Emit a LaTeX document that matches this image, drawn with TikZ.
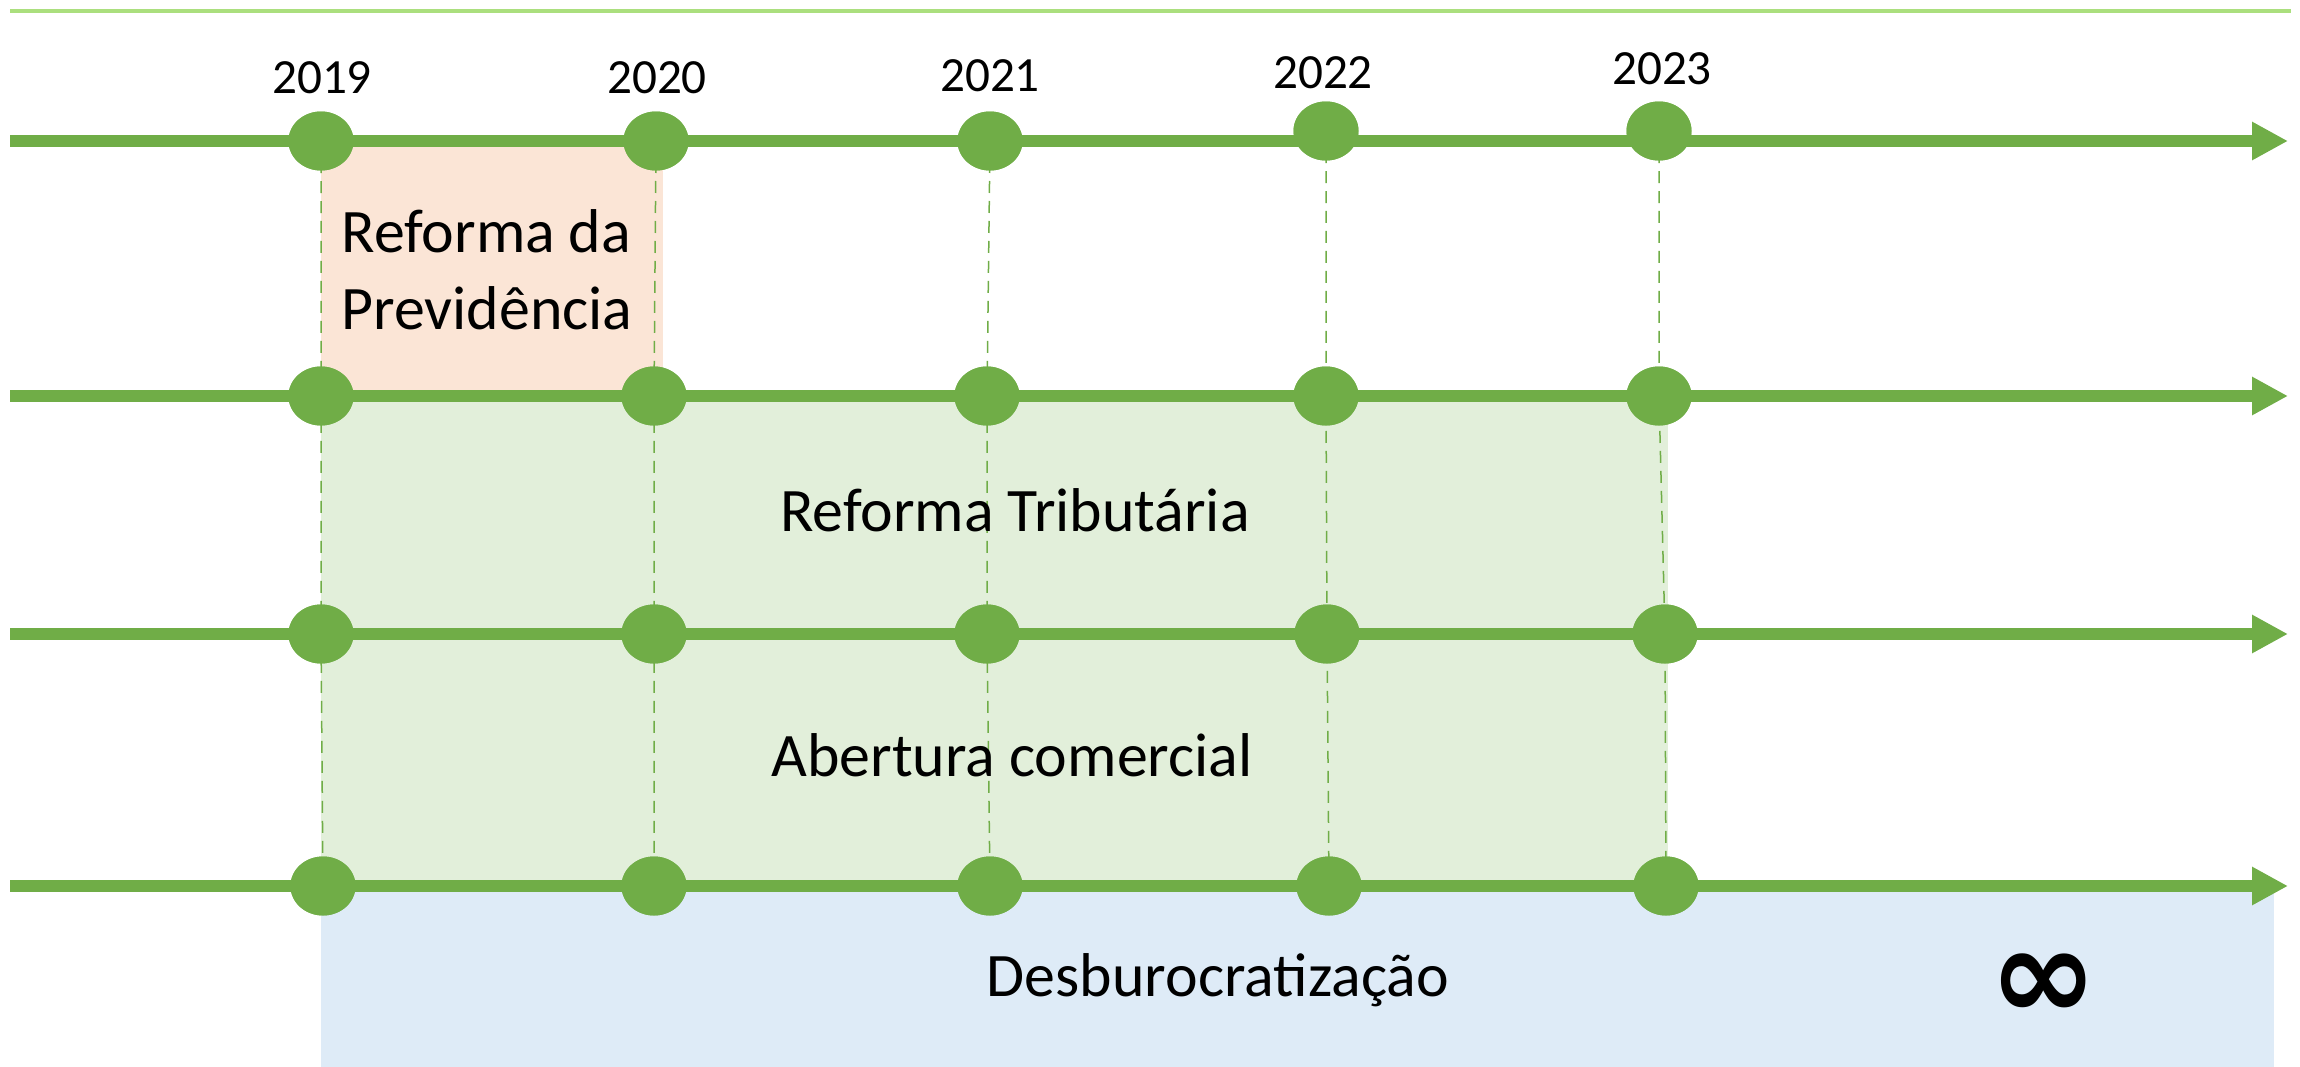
\documentclass[tikz,border=0pt]{standalone}
\usepackage{fontspec}
\setmainfont{Carlito}
\newfontfamily\symfont{DejaVu Sans}
\usetikzlibrary{arrows.meta,shapes.geometric}
\definecolor{tlgreen}{HTML}{70AD47}
\definecolor{toplinegreen}{HTML}{ABDF7E}
\definecolor{peachfill}{HTML}{FBE5D6}
\definecolor{greenfill}{HTML}{E2EFDA}
\definecolor{bluefill}{HTML}{DEEBF7}
\tikzset{
  dot/.style={ellipse, fill=tlgreen, draw=none, minimum width=6.5mm, minimum height=5.9mm, inner sep=0pt},
  axisline/.style={tlgreen, line width=1.2mm, -{Triangle[length=3.6mm,width=3.6mm]}},
  guide/.style={tlgreen, line width=0.15mm, dash pattern=on 1.2mm off 0.8mm},
  yearlabel/.style={font=\fontsize{14}{16}\selectfont, inner sep=0pt},
  bandlabel/.style={font=\fontsize{17.6}{21.8}\selectfont, inner sep=0pt, align=center}
}
\begin{document}
\begin{tikzpicture}[x=0.1mm,y=-0.1mm]
\useasboundingbox (0,0) rectangle (2300,1067);
% top rule
\coordinate (ts) at (10,11);
\coordinate (te) at (2291,11);
\draw[toplinegreen, line width=0.45mm] (ts) -- (te);
% bands
\fill[peachfill] (321,141) rectangle (663,396);
\fill[greenfill] (321,396) rectangle (1668,886);
\fill[bluefill] (321,886) rectangle (2274,1067);
% dots (positions)
\path
  (321,141) node[dot] (a1) {} (656,141) node[dot] (a2) {} (990,141) node[dot] (a3) {} (1326,131) node[dot] (a4) {} (1659,131) node[dot] (a5) {}
  (321,396) node[dot] (b1) {} (654,396) node[dot] (b2) {} (987,396) node[dot] (b3) {} (1326,396) node[dot] (b4) {} (1659,396) node[dot] (b5) {}
  (321,634) node[dot] (c1) {} (654,634) node[dot] (c2) {} (987,634) node[dot] (c3) {} (1327,634) node[dot] (c4) {} (1665,634) node[dot] (c5) {}
  (323,886) node[dot] (d1) {} (654,886) node[dot] (d2) {} (990,886) node[dot] (d3) {} (1329,886) node[dot] (d4) {} (1666,886) node[dot] (d5) {};
% dashed guides
\foreach \i in {1,...,5}{
  \draw[guide] (a\i.center) -- (b\i.center) -- (c\i.center) -- (d\i.center);
}
% axis lines
\foreach \r/\y in {1/141,2/396,3/634,4/886}{
  \coordinate (s\r) at (10,\y);
  \coordinate (e\r) at (2288,\y);
  \draw[axisline] (s\r) -- (e\r);
}
% redraw dots on top
\foreach \n in {a1,a2,a3,a4,a5,b1,b2,b3,b4,b5,c1,c2,c3,c4,c5,d1,d2,d3,d4,d5}{
  \fill[tlgreen] (\n.center) ellipse [x radius=32.5, y radius=29.5];
}
% year labels
\node[yearlabel] (y19) at (322,78) {2019};
\node[yearlabel] (y20) at (657,78) {2020};
\node[yearlabel] (y21) at (990,76) {2021};
\node[yearlabel] (y22) at (1323,73) {2022};
\node[yearlabel] (y23) at (1662,69) {2023};
% band labels
\node[bandlabel, align=left] (prev) at (487,270) {Reforma da\\Previdência};
\node[bandlabel] (trib) at (1015,510) {Reforma Tributária};
\node[bandlabel] (aber) at (1012,755) {Abertura comercial};
\node[bandlabel] (desb) at (1218,980) {Desburocratização};
\node[inner sep=0pt, font=\symfont\bfseries\fontsize{37}{40}\selectfont] (inf) at (2044,987) {∞};
\end{tikzpicture}
\end{document}
